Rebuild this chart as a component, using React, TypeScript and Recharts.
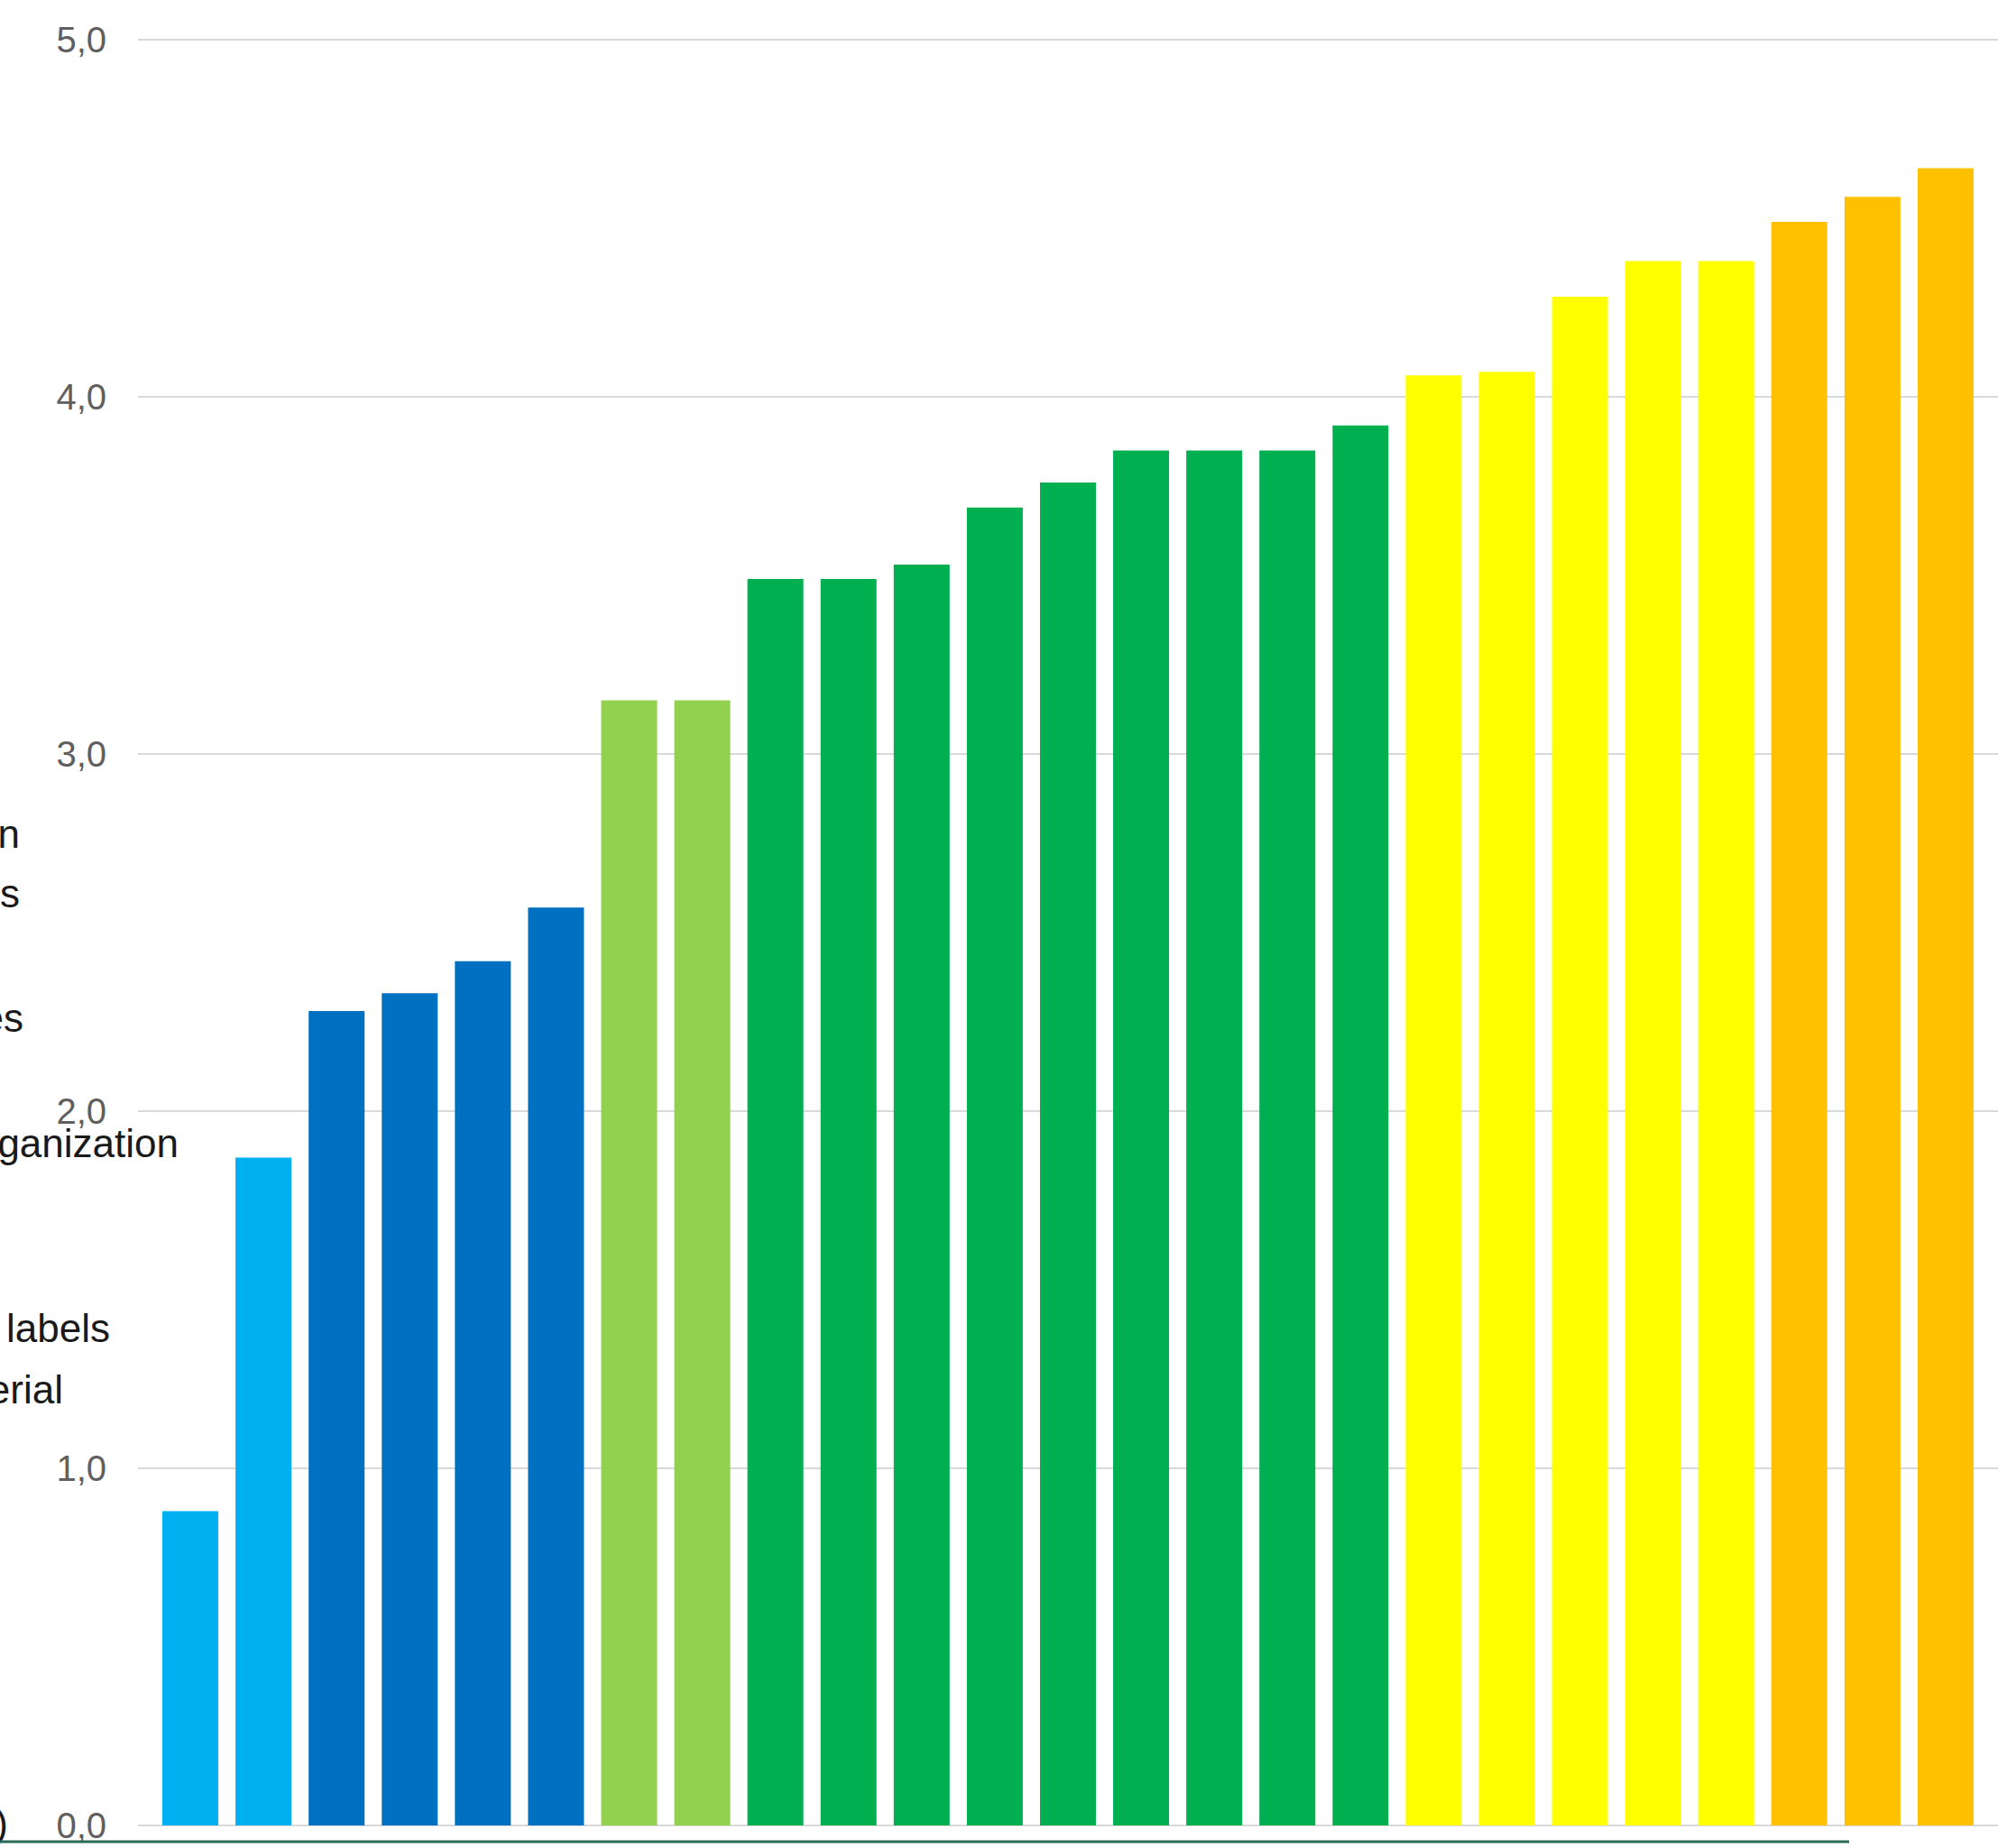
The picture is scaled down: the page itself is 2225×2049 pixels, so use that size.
import React from "react";
import { BarChart, Bar, XAxis, YAxis, CartesianGrid, Cell } from "recharts";

// ---- data ----
const categories: string[] = [
  "1", "2", "3", "4", "5", "6", "7", "8", "9", "10", "11", "12", "13",
  "14", "15", "16", "17", "18", "19", "20", "21", "22", "23", "24", "25",
];
const values: number[] = [
  0.88, 1.87, 2.28, 2.33, 2.42, 2.57, 3.15, 3.15, 3.49, 3.49, 3.53, 3.69, 3.76,
  3.85, 3.85, 3.85, 3.92, 4.06, 4.07, 4.28, 4.38, 4.38, 4.49, 4.56, 4.64,
];
const groups: number[] = [
  0, 0, 1, 1, 1, 1, 2, 2, 3, 3, 3, 3, 3, 3, 3, 3, 3, 4, 4, 4, 4, 4, 5, 5, 5,
];
const yTicks: number[] = [0, 1, 2, 3, 4, 5];
const leftLabels: string[] = ["n", "s", "es", "ganization", "labels", "erial", ")"];

// ---- styles ----
const groupColors = ["#00B0F0", "#0070C0", "#92D050", "#00B050", "#FFFF00", "#FFC000"];
const leftLabelPos = [
  { x: 22, y: 940 },
  { x: 22, y: 1006 },
  { x: 26, y: 1144 },
  { x: 198, y: 1283 },
  { x: 122, y: 1488 },
  { x: 70, y: 1556 },
  { x: 9, y: 2037 },
];

const data = categories.map((c, i) => ({ name: c, value: values[i], group: groups[i] }));

const W = 2225;
const H = 2049;

export default function App() {
  return (
    <div
      style={{
        position: "absolute",
        left: 0,
        top: 0,
        width: W,
        height: H,
        overflow: "hidden",
        background: "#ffffff",
      }}
    >
      <BarChart
        width={W}
        height={H}
        data={data}
        margin={{ top: 44, right: 10, bottom: 25, left: 0 }}
        barCategoryGap={0}
        style={{ position: "absolute", left: 0, top: 0 }}
      >
        <CartesianGrid vertical={false} stroke="#d9d9d9" strokeWidth={2} />
        <XAxis dataKey="name" hide padding={{ left: 17, right: 18 }} />
        <YAxis
          width={153}
          domain={[0, 5]}
          ticks={yTicks}
          interval={0}
          axisLine={false}
          tickLine={false}
          tickSize={0}
          tickMargin={35}
          tickFormatter={(v: number) => v.toFixed(1).replace(".", ",")}
          tick={{ fill: "#5f5f5f", fontSize: 40, fontFamily: "Liberation Sans, Arial, sans-serif" }}
        />
        <Bar dataKey="value" barSize={62} isAnimationActive={false}>
          {data.map((d, i) => (
            <Cell key={i} fill={groupColors[d.group]} />
          ))}
        </Bar>
      </BarChart>
      <svg
        width={W}
        height={H}
        style={{ position: "absolute", left: 0, top: 0, pointerEvents: "none" }}
      >
        {leftLabels.map((t, i) => (
          <text
            key={i}
            x={leftLabelPos[i].x}
            y={leftLabelPos[i].y}
            textAnchor="end"
            fontSize={44}
            fontFamily="Liberation Sans, Arial, sans-serif"
            fill="#1a1a1a"
          >
            {t}
          </text>
        ))}
        <line x1={0} y1={2042} x2={2050} y2={2042} stroke="#2a6b57" strokeWidth={3} />
      </svg>
    </div>
  );
}
